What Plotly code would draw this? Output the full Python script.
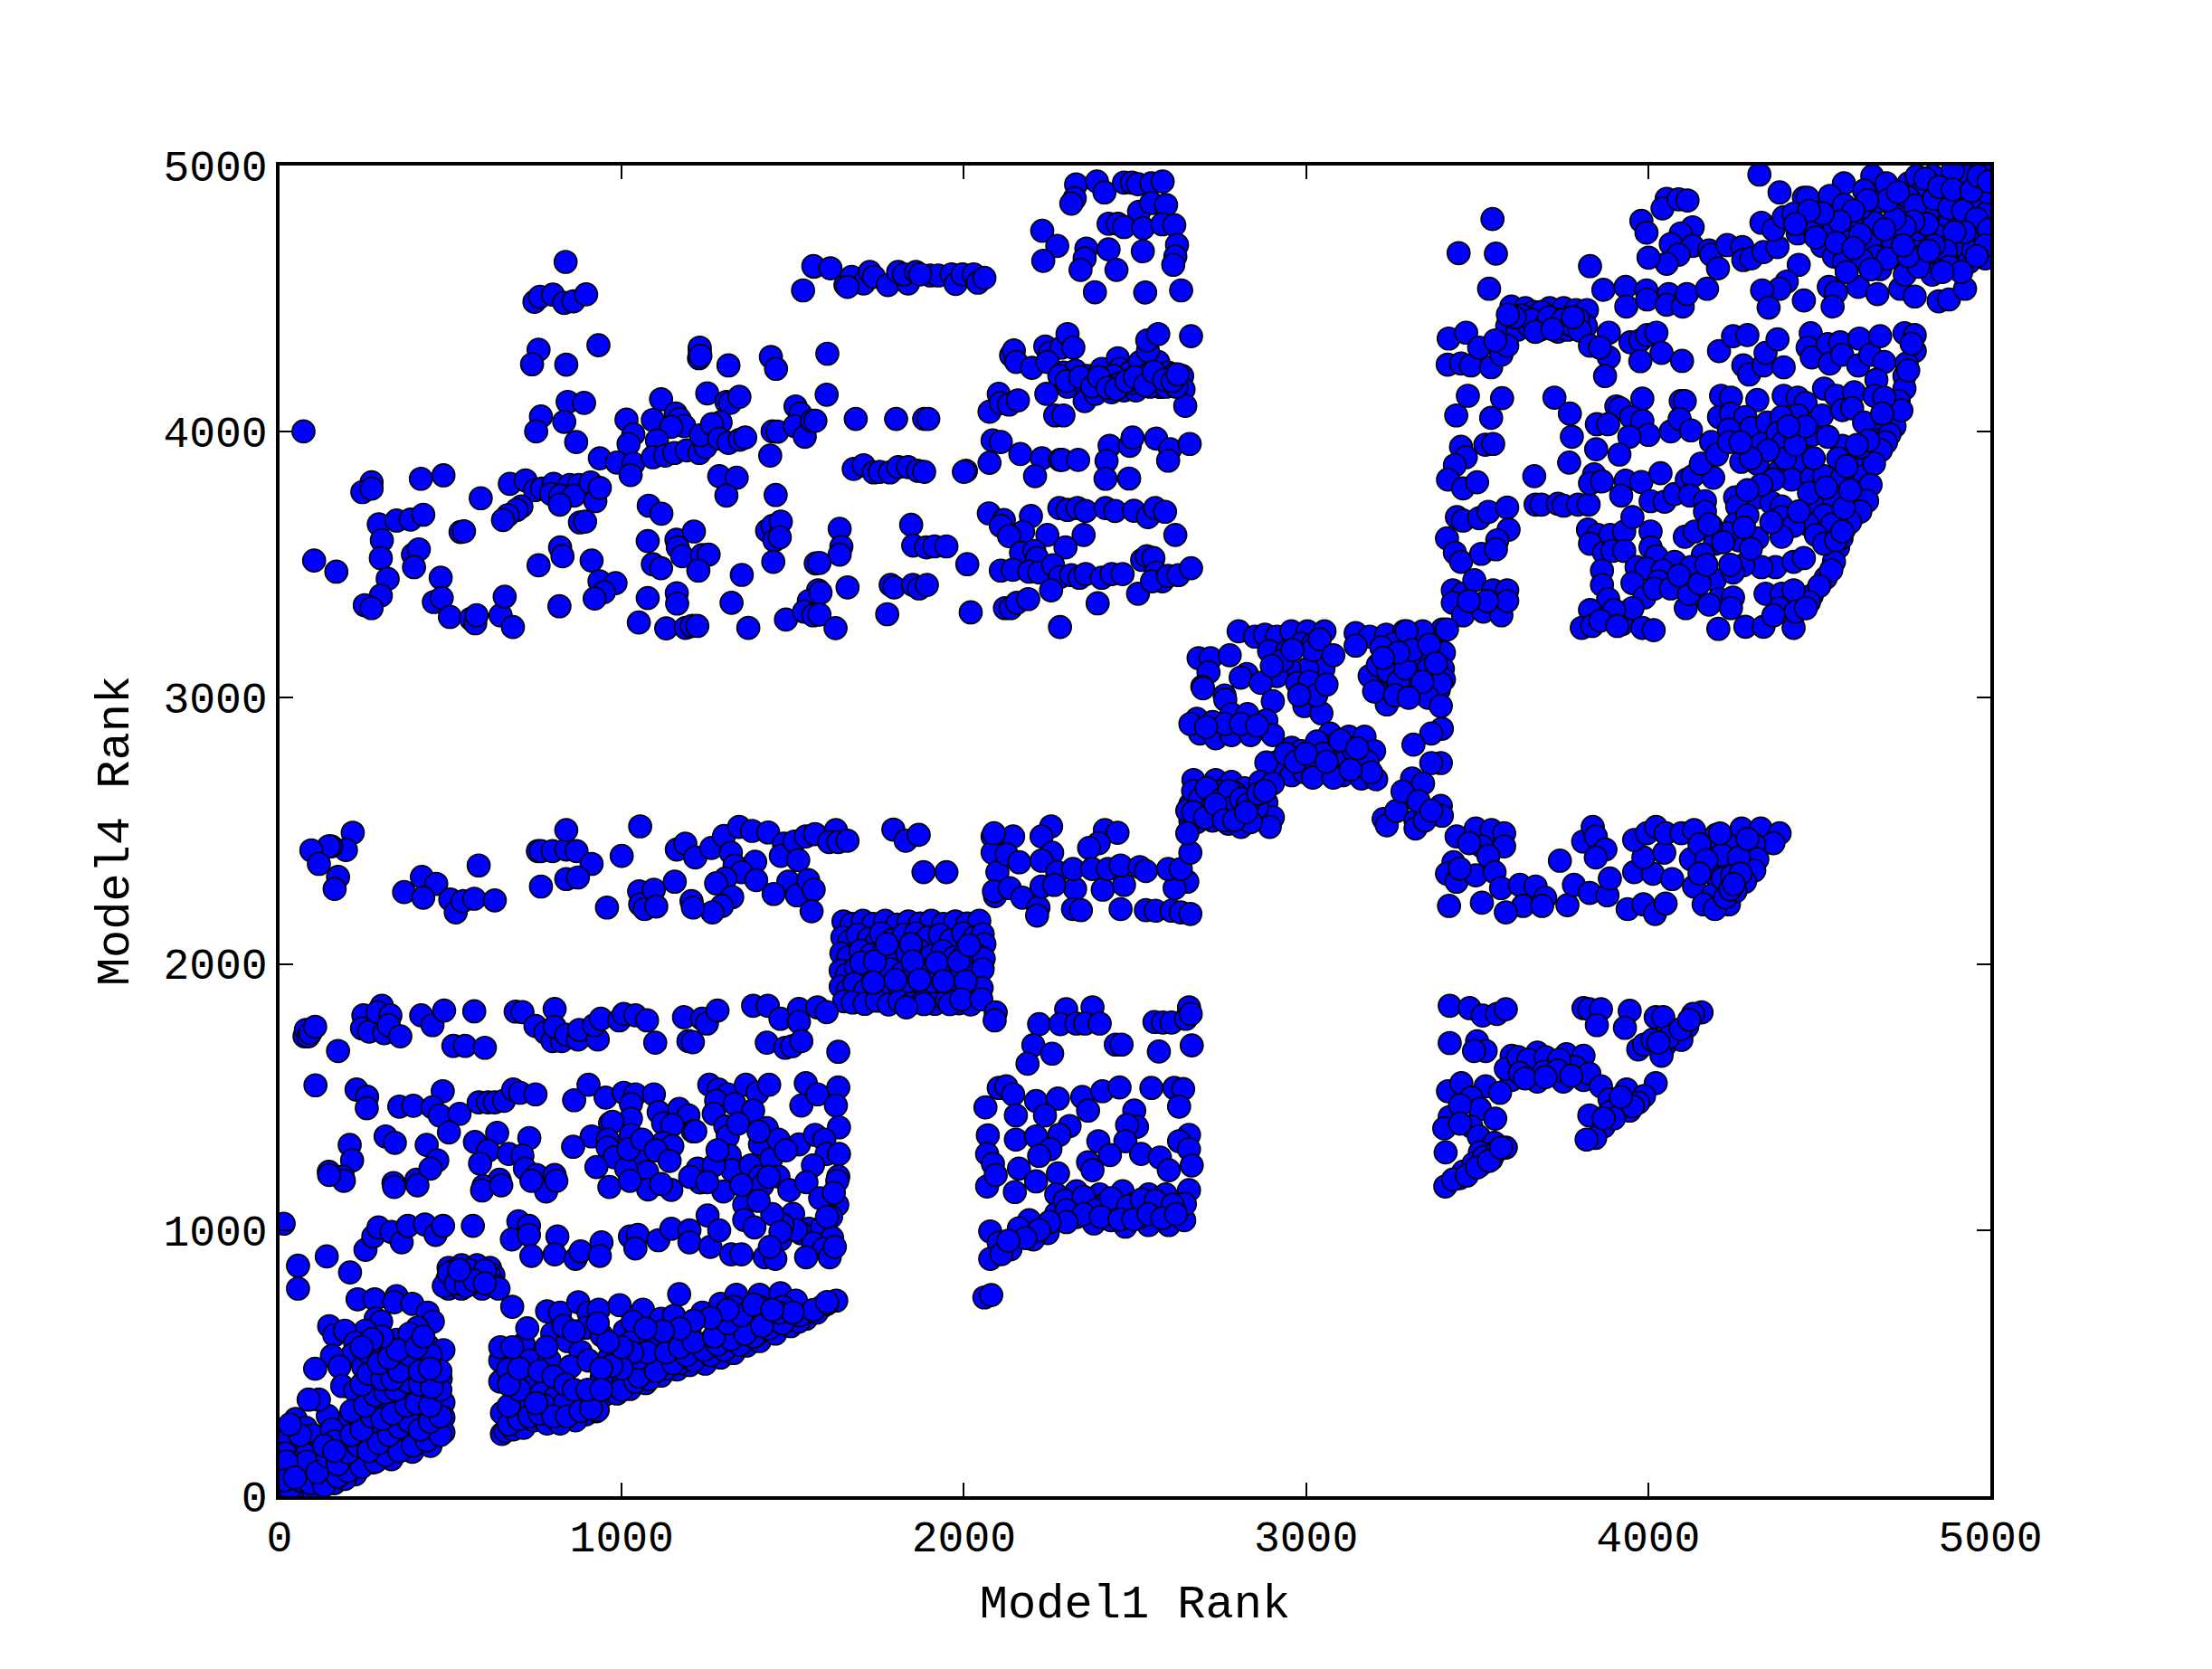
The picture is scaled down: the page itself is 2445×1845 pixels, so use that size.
import plotly.graph_objects as go

# (model1 rank, model4 rank), grouped by region of the plot

top_left = [(70,4001),(836,4638),(745,4488),(761,4507),(799,4515),(832,4484),(859,4490),(896,4516),(932,4325),(757,4308),(738,4253),(838,4252),
(1226,4276),(1228,4303),(1228,4316),(1230,4285),(1312,4249),(1436,4281),(1451,4236),(1562,4620),(1530,4531),(842,4112),(890,4108),(764,4057),(832,4037),(750,4001),(867,3961),
(1115,4122),(1250,4144),(1306,4112),(1317,4108),(1344,4131),(1014,4045),(1091,4044),(1034,3990),(1158,4068),(1169,4048),(1183,4021),(1145,4018),(1020,3954),(1103,3967),(936,3900),(986,3884),(1034,3880),(1026,3837),(1091,3904),(1127,3910),(1154,3920),(1190,3930),(1227,3920),(1245,3943),(1231,3987),(1289,4035),(1264,4028),(1285,3974),(1312,3958),(1345,3970),(1361,3978),(1434,3910),(1441,4001),(1455,4000),(1508,4095),(1522,4068),(1506,4021),(1535,3981),(1556,4041),
(1285,3833),(1336,3827),(1306,3760),(1450,3762),(269,3810),(242,3773),(269,3786),(413,3823),(479,3836),(588,3750),(673,3804),(719,3817),(747,3780),(767,3786),(801,3804),(794,3766),(848,3800),(821,3760),(875,3800),(861,3760),(909,3809),(923,3739),(936,3789),(819,3726),(707,3719),(693,3706),(667,3686),(653,3668),(878,3659),(893,3662),
(290,3652),(342,3666),(383,3670),(420,3688),(299,3592),(296,3525),(316,3447),(296,3384),(249,3348),(269,3337),(390,3538),(407,3558),(393,3491),(529,3623),(539,3626),(101,3516),(166,3474),
(471,3451),(451,3360),(474,3375),(498,3304),(559,3297),(572,3280),(576,3310),(646,3310),(658,3380),(682,3266),(820,3565),(827,3532),(757,3498),(818,3344),(912,3516),(935,3438),(982,3431),(948,3397),(921,3373),
(1079,3722),(1116,3692),(1076,3589),(1160,3594),(1164,3565),(1211,3625),(1177,3532),(1235,3536),(1254,3538),(1091,3502),(1115,3487),(1224,3478),(1076,3375),(1161,3393),(1162,3354),(1050,3283),(1130,3261),(1187,3263),(1205,3270),(1221,3270),(1321,3357),(1351,3462),(1370,3263),(1480,3294),
(1425,3628),(1441,3646),(1465,3662),(1446,3592),(1462,3603),(1443,3511),(1567,3505),(1574,3404),(1547,3364),(1533,3324),(1560,3310)]

top_middle = [(1560,4622),(1610,4614),(1654,4551),(1672,4582),(1707,4557),(1725,4600),(1737,4582),(1778,4551),(1808,4600),(1837,4557),(1825,4591),(1860,4600),(1902,4587),(1925,4587),(1964,4591),(1976,4555),(1996,4591),(2029,4591),(2041,4560),(2060,4578),(1660,4544),(1872,4591),
(2328,4929),(2389,4940),(2411,4899),(2468,4936),(2491,4936),(2509,4930),(2548,4933),(2581,4940),(2324,4877),(2314,4857),(2512,4826),(2548,4859),(2591,4852),(2423,4781),(2450,4781),(2468,4769),(2524,4765),(2580,4779),(2615,4776),
(2229,4755),(2273,4698),(2232,4642),(2358,4688),(2423,4685),(2353,4651),(2341,4608),(2446,4608),(2523,4678),(2623,4702),(2618,4658),(2612,4627),(2383,4524),(2530,4523),(2635,4531),
(1601,4293),(1599,4139),(1566,4041),(1684,4048),(1802,4048),(1884,4048),(1896,4048),
(2138,4287),(2146,4305),(2153,4262),(2199,4240),(2238,4320),(2252,4296),(2285,4316),(2303,4367),(2320,4316),(2244,4262),
(2291,4222),(2314,4182),(2326,4229),(2350,4182),(2361,4209),(2385,4168),(2403,4236),(2426,4182),(2450,4276),(2456,4236),(2468,4155),(2485,4222),(2503,4155),(2515,4262),(2538,4215),(2568,4262),(2574,4168),(2597,4222),(2615,4215),(2638,4209),(2642,4159),(2647,4097),(2353,4115),(2385,4142),(2432,4148),(2538,4303),(2536,4343),(2568,4367),(2664,4359),
(2279,4209),(2303,4169),(2332,4195),(2373,4195),(2409,4182),(2438,4209),(2456,4182),(2491,4182),(2515,4195),(2544,4169),(2562,4195),(2591,4169),(2621,4169),
(2102,4142),(2075,4075),(2108,4108),(2132,4102),(2158,4118),(2241,4142),(2267,4061),(2291,4061),
(2084,3967),(2108,3961),(2075,3883),(2165,3916),(2228,3900),(2208,3833),(2281,3894),(2287,3894),(2334,3894),(2426,3947),(2417,3890),(2414,3823),(2483,3824),(2485,3947),(2493,3978),(2562,3974),(2603,3934),(2597,3891),(2660,3954),
(1678,3860),(1707,3874),(1737,3847),(1754,3849),(1784,3847),(1808,3867),(1837,3867),(1866,3853),(1884,3849),(2006,3853),(2000,3849),
(1637,3635),(1642,3568),(1637,3538),(1578,3507),(1660,3415),(1581,3395),(1578,3313),(1625,3262),
(1846,3650),(1852,3572),(1890,3565),(1914,3569),(1949,3569),(2010,3502),(1786,3424),(1796,3415),(1851,3424),(1869,3411),(1892,3424),(1776,3314),(2020,3321),
(2073,3693),(2117,3668),(2108,3646),(2196,3683),(2173,3623),(2132,3608),(2244,3612),(2350,3612),(2297,3565),(2167,3545),(2206,3552),(2214,3525),
(2279,3713),(2303,3706),(2332,3713),(2356,3702),(2414,3713),(2442,3702),(2497,3703),(2538,3679),(2559,3713),(2588,3699),(2618,3612),
(2108,3478),(2143,3481),(2191,3474),(2220,3471),(2261,3498),(2281,3454),(2255,3404),(2314,3461),(2338,3451),(2356,3465),(2403,3451),(2432,3465),(2464,3465),(2521,3518),(2535,3532),(2554,3525),(2562,3471),(2509,3391),(2580,3438),(2550,3438),(2597,3458),(2627,3461),(2664,3487),
(2120,3337),(2137,3337),(2155,3357),(2188,3371),(2391,3355),(2281,3266),
(2300,4190),(2340,4205),(2375,4170),(2395,4205),(2420,4165),(2445,4160),(2475,4190),(2500,4205),(2530,4175),(2555,4225),(2585,4195),(2610,4190),(2625,4215)]

top_right = [(4325,4966),(3545,4799),(3446,4671),(3555,4669),(3535,4537),(3830,4622),(4054,4875),(4042,4839),(4089,4873),(4115,4869),
(3980,4792),(3995,4748),(4130,4768),(4095,4745),(4066,4705),(4130,4698),(4089,4665),(4054,4631),(4001,4654),(4178,4681),(4184,4665),(4204,4614),(4231,4701),(4275,4694),
(4278,4645),(4301,4651),(4337,4675),(4378,4694),(4440,4627),(4405,4564),(4384,4537),(4333,4531),(4352,4466),(4455,4493),(4528,4544),(4549,4524),(4539,4470),(4614,4544),(4670,4517),(4737,4537),(4779,4508),(4849,4490),(4879,4497),(4926,4537),
(4384,4899),(4455,4879),(4466,4879),(4572,4933),(4531,4886),(4331,4785),(4366,4759),(4396,4806),(4425,4819),(4478,4799),(4514,4772),(4437,4745),(4508,4698),(4543,4658),(4572,4638),(4584,4739),(4608,4785),(4661,4785),(4649,4705),(4667,4658),(4625,4645),(4620,4839),(4678,4866),(4655,4960),(4720,4839),(4732,4752),(4779,4732),(4726,4658),(4779,4625),(4832,4645),(4897,4705),(4902,4645),(4808,4866),(4761,4933),(4844,4812),(4867,4946),(4867,4732),(4926,4893),(4938,4799),(4973,4933),(4979,4785),(4973,4705),(4926,4692),(4743,4812),(4785,4960),(4832,4960),(4914,4966),(4950,4852),(4855,4866),(4696,4933),(4631,4906),(4572,4852),(4985,4973),(4973,4866),(4902,4799),(4808,4785),(4714,4718),(4678,4611),(4785,4705),(4855,4705),(4985,4651),(4938,4638),(4478,4772),
(4800,4900),(4820,4830),(4870,4900),(4880,4780),(4910,4850),(4960,4740),(4990,4820),(4760,4880),(4790,4760),(4840,4740),(4950,4680),(4990,4900),(4930,4960),(4890,4980),(4860,4670),(4800,4660),(4830,4590),(4750,4590),(4700,4650),
(4780,4850),(4810,4950),(4835,4875),(4850,4920),(4880,4840),(4890,4910),(4920,4830),(4945,4905),(4960,4800),(4965,4960),(4995,4940),(4995,4760),(4985,4700),(4925,4750),(4895,4750),(4870,4680),(4835,4700),(4815,4780),(4775,4790),(4750,4770),(4720,4800),(4700,4870),(4730,4900),(4790,4620),(4760,4660),(4745,4700),(4820,4680),(4880,4620),(4960,4660),(4915,4600),(4860,4600),(4640,4870),(4600,4830),(4560,4790),(4510,4820),(4470,4830),(4430,4780),(4490,4730),(4550,4710),(4620,4740),(4690,4760),(4650,4610),(4600,4690),(4580,4600),
(3600,4470),(3641,4464),(3588,4397),(3618,4383),(3665,4450),(3683,4383),(3712,4464),(3736,4376),(3753,4464),(3765,4383),(3789,4457),(3821,4457),(3818,4397),(3688,4450),(3630,4437),(3730,4423),(3795,4423),
(3650,4400),(3660,4420),(3700,4400),(3710,4430),(3750,4420),(3775,4400),(3800,4380),(3610,4430),(3590,4440),(3670,4375),(3720,4385),(3780,4430),
(3869,4533),(3934,4544),(3995,4531),(3936,4470),(3997,4497),(4060,4517),(4054,4477),(4101,4470),(4113,4517),(4172,4537),
(3417,4350),(3468,4372),(3414,4252),(3453,4256),(3482,4249),(3506,4316),(3541,4242),(3571,4289),(3588,4323),(3553,4343),
(3830,4323),(3885,4372),(3885,4279),(3874,4209),(3948,4336),(3977,4343),(3997,4363),(4024,4372),(3977,4265),(4039,4296),(4099,4266),(3859,4316),
(4207,4303),(4248,4359),(4290,4363),(4278,4249),(4295,4215),(4337,4249),(4343,4296),(4378,4347),(4396,4242),(4475,4370),(4466,4316),(4478,4279),(4525,4329),(4561,4336),(4531,4256),(4567,4289),(4617,4350),(4614,4249),(4649,4289),(4678,4359),(4690,4262),(4667,4195),(4749,4370),(4779,4363),(4779,4303),(4755,4256),(4749,4209),(4749,4162),(4732,4115),(4726,4068),(4684,4021),(4667,3967),(4637,3900),(4631,3833),(4625,3773),(4602,3686),(4572,3632),(4555,3565),(4543,3511),(4519,3451),(4478,3384),(4455,3337),
(4720,4020),(4705,3990),(4695,3960),(4680,3930),(4660,3880),(4650,3800),(4640,3740),(4620,3700),(4590,3660),(4565,3600),(4535,3480),(4500,3420),(4470,3360),(4740,4080),(4760,4230),(4770,4330),
(3473,4135),(3573,4126),(3439,4061),(3541,4052),(3453,3943),(3467,3904),(3524,3951),(3547,3954),(3435,3874),(3415,3820),(3459,3787),(3500,3810),(3726,4128),(3771,4068),(3777,3981),(3769,3884),(3667,3833),(3671,3726),(3688,3726),(3736,3729),(3753,3722),(3795,3726),(3826,3726),
(3441,3679),(3459,3666),(3506,3675),(3533,3699),(3588,3715),(3592,3632),(3559,3592),(3412,3599),(3435,3545),(3453,3511),(3512,3541),(3555,3558),(3429,3404),(3459,3391),(3492,3442),(3429,3357),(3459,3310),(3518,3324),(3547,3404),(3571,3310),(3588,3404),(3588,3364),(3529,3364),(3476,3364)]

right_block = [(3907,4095),(3918,4088),(3983,4124),(3950,4055),(3983,4041),(4001,3988),(3945,3981),(3850,4028),(3883,4028),(3848,3934),(3916,3914),(4066,4001),(4095,4115),(4107,4115),(4092,4048),(4125,4005),
(3842,3840),(3830,3806),(3865,3813),(3934,3816),(3980,3811),(4036,3844),(3921,3760),(4007,3739),(4048,3737),(4077,3766),(4113,3820),(4130,3833),(4122,3760),(4190,3827),(4166,3739),(4154,3880),
(4213,4135),(4242,4128),(4319,4119),(4207,4055),(4242,4068),(4284,4055),(4236,4008),(4184,3961),(4201,3914),(4236,3961),(4272,3887),(4319,3880),(4301,4014),(4348,4034),(4331,3954),(4396,4135),(4437,4128),(4460,4108),(4437,4061),(4390,4055),(4378,3994),(4396,3961),(4455,3914),(4431,3887),(4384,3853),(4419,3820),(4366,3820),(4478,3988),(4508,4061),(4514,4162),(4549,4135),(4567,4081),(4602,4148),(4596,4088),(4631,4034),(4661,4135),(4690,4128),(4684,4068),(4567,3947),(4555,3900),(4525,3981),(4478,3827),(4514,3833),(4567,3827),(4484,3900),(4620,3941),(4643,3967),
(4490,3733),(4543,3739),(4514,3686),(4537,3652),(4572,3713),(4466,3652),(4490,3612),(4514,3579),(4549,3592),(4567,3625),(4254,3753),(4260,3719),(4319,3753),(4360,3733),(4390,3719),(4390,3679),(4425,3646),(4390,3605),(4319,3599),(4254,3652),(4290,3686),(4266,3592),(4231,3619),(4184,3646),(4195,3579),
(4107,3605),(4136,3625),(4166,3699),(4178,3652),(4160,3538),(4195,3444),(4207,3371),(4248,3377),(4242,3337),(4178,3350),(4110,3337),(4119,3398),(4205,3259),(4284,3267),(4337,3267),(4343,3391),(4390,3391),(4384,3337),(4425,3404),(4425,3263),(4431,3324),(4461,3337),(4366,3310),(4372,3491),(4331,3491),(4278,3498),(4248,3471),(4425,3511),(4455,3525),(4219,3585),
(3824,3632),(3853,3612),(3889,3612),(3930,3625),(3830,3579),(3871,3545),(3895,3552),(3930,3552),(3954,3679),(4007,3625),(4007,3565),(4024,3532),(3966,3491),(3995,3485),(4077,3511),(4042,3478),(4125,3491),(3865,3478),(3865,3424),(3954,3431),(4030,3438),(3989,3377),(4018,3411),(4066,3411),(3883,3371),(3830,3330),(3806,3263),(3836,3270),(3889,3297),(3924,3277),(3954,3337),(3983,3263),(4016,3254),(4119,3390),
(4400,3900),(4430,3950),(4460,4020),(4410,4020),(4350,3930),(4300,3900),(4270,3960),(4330,3800),(4290,3780),(4470,3770),(4520,3790),(4590,3780),(4580,3870),(4610,3950),(4440,3700),(4360,3660),(4280,3640),(4300,3560),(4240,3500),(4090,3460),(4150,3430),(4170,3500),(3900,3330),(3860,3290),(3910,3270)]

center_blocks = [(2803,3250),(2851,3230),(2880,3237),(2915,3230),(2957,3250),(3004,3250),(3054,3250),(3145,3243),(3186,3230),(3234,3237),(3287,3250),(3340,3243),(3399,3257),(2686,3149),(2721,3149),(2777,3160),(2715,3096),(2697,3042),(2827,3089),(2809,3076),(2892,3176),(2945,3176),(2986,3203),(3021,3203),(3057,3149),(3051,3109),(3004,3109),(2951,3109),(2915,3082),(2868,3056),(2974,3056),(2762,3009),
(3186,3082),(3210,3123),(3257,3203),(3257,3136),(3298,3163),(3340,3136),(3375,3163),(3363,3096),(3234,3042),(3293,3042),(3328,3056),(3210,3022),(3145,3196),
(3412,3257),(3341,3250),(3294,3250),(3403,3170),(3400,3109),(3403,3069),(3347,3163),(3323,3149),(3358,3109),(3382,3056),(3311,3069),(3388,3029),
(2699,3036),(2764,2993),(2903,2987),(2995,2969),(3045,2942),(3236,2975),(3199,3024),(3394,3054),(3273,3011),(3357,3000),(3394,2969),(3397,2884),(3366,2866),(3314,2824),(3394,2755),(3366,2755),
(2681,2921),(2727,2909),(2782,2939),(2829,2939),(2690,2866),(2736,2848),(2782,2860),(2838,2860),(2884,2915),(2903,2860),(2662,2902),(2764,2902),(2810,2902),(2857,2896),(2708,2890),
(2958,2812),(2986,2800),(2912,2757),(2958,2709),(3014,2769),(3070,2866),(3125,2854),(3171,2854),(3199,2800),(3051,2721),(3107,2709),(3162,2697),(3205,2694),(3097,2781),(3153,2757),(3070,2818),(2995,2721),(2884,2757),(3032,2836),
(2671,2691),(2736,2691),(2782,2684),(2662,2600),(2718,2612),(2764,2606),(2820,2660),(2681,2533),(2727,2539),(2773,2527),(2810,2515),(2866,2684),(2903,2678),(2884,2606),(2903,2551),(2894,2515),(2857,2588),(2662,2539),(2699,2648),(2745,2648),(2792,2642),(2690,2576),(2745,2569),(2801,2563),(2838,2533),(2653,2576),
(3310,2697),(3342,2678),(3292,2624),(3394,2594),(3397,2557),(3227,2545),(3236,2521),(3264,2575),(3320,2539),(3320,2509),(3347,2539),(3282,2648),(3329,2612),(3366,2576),
(2670,2650),(2690,2620),(2710,2660),(2725,2590),(2755,2620),(2775,2650),(2785,2590),(2810,2620),(2830,2600),(2670,2570),(2705,2550),(2735,2600),(2760,2540),(2790,2540),(2825,2570),(2860,2640),(2880,2650),
(3020,3180),(3040,3220),(3080,3160),(3010,3060),(3030,3010),(3060,3050),(2980,3010),(2930,3140),(2960,3180),(2900,3120),(3220,3190),(3240,3100),(3270,3060),(3290,3110),(3310,3180),(3340,3060),(3360,3200),(3380,3130),(3270,3170),(3260,3010),(3300,3000),(3225,3150),
(2940,2790),(2970,2760),(3030,2750),(3050,2790),(3085,2740),(3120,2770),(3140,2800),(3180,2760),(3190,2720),(3020,2700),(3080,2700),(3130,2730),(3000,2790),(3100,2840),(3150,2810),(3060,2760)]

row_2300_left = [(214,2493),(194,2428),(151,2442),(144,2442),(93,2427),(115,2376),(171,2327),(161,2282),(364,2270),(416,2327),(458,2301),(420,2249),(499,2242),(515,2194),(535,2236),(569,2245),(629,2239),(582,2370),
(764,2291),(755,2424),(764,2424),(798,2424),(838,2430),(838,2503),(868,2424),(912,2376),(838,2319),(872,2325),(1000,2406),(957,2212),(1054,2517),
(1051,2273),(1054,2224),(1067,2206),(1094,2279),(1101,2216),(1155,2309),(1161,2430),(1186,2452),(1215,2400),(1262,2436),(1299,2481),(1343,2515),(1319,2418),(1381,2500),(1428,2494),(1474,2452),(1465,2406),(1505,2460),(1538,2479),(1565,2488),(1516,2390),(1626,2503),(1606,2458),(1633,2458),(1660,2463),(1390,2384),(1330,2370),(1350,2345),(1303,2321),(1276,2303),(1393,2315),(1323,2251),(1293,2218),(1265,2194),(1204,2236),(1208,2212),(1487,2309),(1444,2263),(1512,2258),(1545,2315),(1561,2279),(1555,2198),
(1794,2505),(1830,2463),(1868,2485),(1882,2345),(1949,2345),(2084,2479),(2084,2418),(2098,2345),(2091,2255),
(2255,2517),(2227,2479),(2144,2479),(2088,2491),(2125,2412),(2162,2382),(2258,2418),(2227,2388),(2412,2503),(2449,2493),(2394,2454),(2366,2436),(2088,2273),(2134,2285),(2171,2249),(2218,2212),(2214,2182),(2325,2282),(2406,2279),(2468,2297),(2319,2206),(2342,2202),(2458,2206),(2532,2202),(2560,2200),(2607,2200),(2634,2194),(2662,2188),(2653,2309),(2616,2285),(2227,2291),(2273,2345),(2319,2357),(2375,2357),(2421,2357),(2458,2370),(2514,2364),(2532,2349),(2597,2357),(2634,2357),(2264,2297),(2662,2418),(2653,2491)]

row_2300_right = [(3440,2479),(3496,2509),(3542,2503),(3579,2491),(3579,2442),(3514,2442),(3477,2454),(3533,2406),(3431,2382),(3412,2339),(3440,2309),(3496,2333),(3551,2345),(3449,2358),
(3570,2285),(3625,2297),(3671,2291),(3699,2249),(3634,2218),(3584,2194),(3514,2230),(3418,2218),(3690,2218),(3764,2221),(3783,2297),(3829,2267),(3881,2258),(3888,2321),(3742,2388),(3810,2460),(3838,2515),(3847,2479),(3875,2430),(3847,2400),(3940,2206),(3986,2224),(4020,2188),(4051,2227),
(3959,2345),(4014,2339),(4070,2319),(3986,2400),(4047,2418),(3959,2466),(3996,2491),(4023,2515),(4051,2491),(4097,2491),(4134,2503),(4199,2485),(4273,2509),(4329,2509),(4384,2491),(4366,2454),(4310,2448),(4245,2442),(4181,2430),(4125,2394),(4181,2345),(4236,2370),(4319,2394),(4310,2351),(4283,2309),(4134,2291),(4190,2261),(4236,2224),(4162,2224),(4195,2206),(4255,2273),(4218,2321),
(4150,2450),(4215,2410),(4265,2400),(4245,2330),(4270,2340),(4225,2250),(4240,2280),(4250,2300),(4170,2390),(4150,2340),(4210,2490),(4290,2470)]

block_2000 = [(1648,2160),(1672,2150),(1705,2162),(1735,2150),(1770,2162),(1805,2148),(1838,2160),(1872,2152),(1905,2162),(1940,2150),(1975,2160),(2010,2152),(2045,2162),
(1645,2100),(1665,2085),(1690,2110),(1722,2095),(1745,2080),(1758,2115),(1790,2090),(1825,2110),(1860,2115),(1885,2085),(1895,2100),(1930,2110),(1962,2090),(1998,2115),(2030,2100),(2055,2112),(2060,2075),
(1642,2040),(1662,2025),(1698,2050),(1730,2035),(1765,2045),(1800,2020),(1835,2040),(1870,2050),(1905,2030),(1938,2048),(1972,2025),(2005,2045),(2040,2032),(2058,2020),
(1640,1975),(1658,1960),(1685,1985),(1718,1970),(1752,1955),(1785,1980),(1820,1965),(1855,1985),(1890,1960),(1925,1978),(1958,1955),(1992,1975),(2028,1962),(2055,1980),
(1640,1915),(1660,1900),(1680,1925),(1712,1900),(1748,1885),(1782,1910),(1815,1895),(1850,1915),(1885,1890),(1918,1905),(1952,1888),(1988,1908),(2022,1892),(2052,1910),
(1650,1860),(1675,1855),(1710,1850),(1745,1862),(1780,1848),(1812,1860),(1848,1852),(1880,1858),(1915,1850),(1950,1862),(1985,1852),(2020,1848),
(1700,2005),(1740,2010),(1775,2075),(1845,2075),(1850,2010),(1920,2005),(1985,2010),(2015,2070),(1735,1930),(1800,1940),(1870,1940),(1940,1935),(2005,1935)]

row_1800 = [(1384,1843),(1427,1843),(1464,1794),(1518,1831),(1518,1782),(1572,1837),(1599,1819),(73,1728),(77,1752),(84,1728),(90,1740),(104,1764),(171,1673),
(245,1807),(241,1758),(262,1746),(299,1843),(286,1819),(324,1807),(306,1740),(319,1770),(353,1728),(414,1807),(447,1770),(481,1825),(508,1692),(542,1692),(600,1685),(569,1822),(690,1821),(710,1819),(804,1831),(748,1767),(777,1742),(798,1710),(825,1710),(804,1764),(838,1734),(872,1716),(876,1752),(930,1716),(919,1770),(939,1794),(993,1788),(1006,1812),(1040,1807),(1074,1788),(1098,1704),(1182,1800),(1235,1794),(1249,1776),(1280,1825),(1195,1710),(1208,1706),(1424,1704),(1478,1685),(1498,1691),(1525,1710),(1633,1670),
(1883,1849),(1832,1837),(1959,1849),(1992,1867),(2051,1867),(2093,1818),(2090,1788),
(2299,1830),(2376,1837),(2220,1774),(2282,1774),(2329,1776),(2354,1776),(2397,1776),(2203,1695),(2258,1663),(2186,1625),(2444,1697),(2461,1697),(2570,1671),(2666,1694),(2557,1782),(2582,1780),(2607,1780),(2649,1794),(2658,1837),(2663,1812)]

mid_left = [(105,1544),(225,1528),(256,1501),(255,1458),(350,1464),(391,1467),(477,1522),(447,1461),(468,1431),(526,1437),(582,1480),(609,1480),(629,1480),(656,1486),(683,1528),(703,1516),(748,1510),(495,1367),(861,1488),(903,1546),(953,1498),(1006,1516),(1040,1510),(1094,1510),(1027,1474),(1108,1443),(1168,1455),(1195,1431),(1256,1546),(1283,1528),(1310,1510),(1276,1486),(1269,1437),(1363,1546),(1397,1516),(1431,1546),(1330,1474),(1384,1449),(1538,1552),(1525,1468),(1572,1510),(1633,1536),(1626,1468),(1027,1419),(966,1401),(973,1407),(1208,1371),(1215,1371),(1303,1389),(1424,1383),(1635,1386),(1027,1358),(1121,1401),(1148,1395),(912,1352),(959,1340),
(310,1352),(337,1328),(205,1320),(430,1320),(571,1331),(636,1365),(609,1298),(670,1286),(730,1346),(858,1313),(212,1262),(144,1219),(185,1201),(333,1177),(400,1189),(461,1262),(441,1231),(586,1250),(710,1280),(717,1231),(751,1207),(804,1207),(643,1189),(596,1165),(959,1310),(979,1274),(1060,1262),(1074,1219),(926,1237),(1013,1231),(1020,1304),(1121,1328),(1148,1316),(1310,1352),(1316,1280),(1222,1231),(1323,1225),(1269,1243),(1377,1243),(1404,1322),(1437,1268),(1458,1340),(1518,1322),(1565,1358),(1592,1340),(1599,1286),(1635,1286),(1559,1243),(1633,1201),(1458,1201),(1404,1201),
(964,1162),(1077,1153),(1145,1151),(1024,1185),(1115,1173),(1229,1179),(1297,1145),(1251,1055),(1358,1095),(1358,1038),(1411,1168),(1501,1061),(1630,1185),(1630,1095),(1612,1050),(1547,1005),(1388,1010),(1464,965),(1524,988),(1585,1010),(1615,971),
(335,1162),(403,1168),(592,1149),(648,1168),(779,1145),(809,1185),(736,1185),(188,1185),(145,1207),
(1060,1340),(1100,1300),(1140,1260),(1200,1200),(1250,1180),(1280,1300),(1340,1400),(1400,1370),(1430,1200),(1480,1300),(1490,1150),(1540,1180),(1580,1120),(1600,1050),(1620,1140),(1510,1000),(1560,950),(1590,930),(1470,1020),(1440,1060),(1400,1110),(1350,1170)]

row_1000_left = [(12,1024),(138,901),(54,866),(54,780),(206,841),(251,926),(274,976),(289,1010),(327,993),(357,954),(375,1016),(425,1021),(456,982),(478,1016),(565,1016),(698,1033),(729,1016),(679,965),(729,982),(736,903),(812,976),(804,909),(865,892),(880,920),(941,954),(936,903),(1024,976),(1047,982),(1040,931),(1107,962),(1145,1005),(1198,999),(1198,954),(1259,937),(1285,999),(1320,909),(1350,909),(1418,898),(1449,892),(1464,993),(1433,937),(1539,898),(1608,898),(1623,937),
(494,858),(532,868),(577,868),(615,858),(625,830),(490,813),(524,825),(577,819),(615,825),(494,780),(532,780),(592,780),(630,790),(640,780),(480,790),(554,850),(509,848),(600,848),(562,801),(495,838),(680,712),(1168,759),(515,800),(545,790),(570,810),(600,800),(525,850)]

bottom_left = [(228,740),(278,740),(342,752),(335,729),(388,723),(433,690),(448,656),(403,633),(281,667),(297,656),(251,622),(145,639),(160,605),(191,622),(221,577),(213,532),(153,527),(175,487),(104,479),(183,414),(221,397),(244,487),(281,453),(312,543),(342,588),(380,611),(433,566),(479,549),(441,532),(372,498),(403,453),(471,442),(319,470),(357,420),(395,397),(433,375),(479,352),(479,296),(479,240),(433,307),(448,251),(403,319),(357,341),(297,330),(327,273),(266,375),(372,240),(418,217),(312,217),(357,184),(297,161),(251,200),(228,273),(198,285),(141,302),(115,363),(85,363),(47,290),(77,257),(54,195),(24,229),(100,229),(153,251),(191,195),(236,150),(100,161),(175,139),(160,206),(77,155),(17,161),(24,99),(85,82),(115,49),(160,49),(221,82),(191,65),(130,105),(54,37),(8,15),(8,82),(69,26),(274,127),(327,139),(388,167),(441,189),(145,71),(115,127),(39,127),(100,15),(24,9),(206,127),(342,195),(418,262),(297,240),(357,498),
(30,30),(60,60),(90,50),(130,40),(170,75),(200,95),(240,110),(280,130),(310,155),(350,170),(390,190),(430,210),(470,230),(50,110),(80,130),(110,90),(140,150),(170,120),(200,165),(230,190),(260,170),(290,200),(320,230),(350,260),(380,280),(410,250),(440,280),(470,300),(130,190),(160,170),(210,230),(240,250),(270,300),(300,290),(330,310),(370,340),(400,350),(440,340),(470,400),(210,320),(250,340),(280,380),(310,390),(340,400),(375,430),(410,420),(445,410),(470,470),(240,420),(260,460),(300,440),(330,440),(350,470),(380,530),(410,470),(440,480),(260,540),(290,500),(320,520),(345,550),(400,560),(420,600),(300,600),(270,590),(240,560),(20,130),(15,60),(45,70),(60,230),(30,270)]

bottom_wedge = [(650,234),(660,245),(683,251),(713,257),(744,285),(782,307),(820,313),(857,319),(895,307),(926,319),(948,380),(986,386),(1024,403),(1070,425),(1115,453),(1161,476),(1198,493),(1244,498),(1289,521),(1327,538),(1365,566),(1403,583),(1449,611),(1494,639),(1539,667),(1585,712),(1627,735),(1570,690),(1517,656),(1600,723),
(650,313),(645,431),(645,510),(645,560),(668,476),(713,572),(724,631),(729,510),(789,510),(744,420),(766,386),(804,369),(774,341),(706,352),(691,296),(782,695),(820,690),(873,729),(903,690),(933,701),(994,718),(1062,701),(797,611),(842,583),(895,633),(941,605),(880,543),(850,487),(903,510),(964,521),(1009,622),(1032,656),(1024,577),(1085,577),(1115,667),(1153,678),(1153,577),(1198,617),(1229,543),(1236,690),(1289,723),(1335,757),(1403,757),(1464,763),(1509,735),(1365,656),(1418,678),(1289,617),(1342,577),(979,453),(1039,476),(1100,510),(1161,510),(1251,577),(994,521),(941,442),(873,363),(903,341),(835,352),(1403,712),(1327,712),(1471,712),(1388,600),(1449,656),(930,324),(782,273),(865,285),(820,273),(744,319),
(1000,400),(1040,430),(1080,440),(1130,480),(1170,500),(1210,510),(1260,530),(1300,550),(1345,570),(1385,600),(1430,630),(1470,650),(1520,680),(1560,700),(1600,730),(1050,450),(1100,470),(1150,500),(1190,530),(1240,550),(1280,570),(1320,590),(1360,610),(1410,640),(1460,690),(1500,690),(1050,520),(1075,540),(1130,540),(1170,560),(1210,580),(1270,600),(1310,650),(1350,680),(1385,720),(1440,700),(1310,700),(1260,670),(1210,660),(1170,630),(1120,620),(1070,630),(1030,540),(1000,480),(970,490),(1000,560),(940,480),(670,270),(700,290),(730,300),(760,310),(800,300),(840,300),(880,320),(910,330),(670,340),(700,400),(670,420),(700,480),(680,560),(750,350),(760,470),(800,450),(835,420),(860,400),(900,400),(940,400),(780,560),(830,640),(860,620),(960,580),(930,650)]

mid_center = [(2102,1534),(2124,1540),(2144,1510),(2063,1461),(2211,1485),(2275,1494),(2346,1500),(2405,1522),(2455,1536),(2548,1534),(2615,1534),(2641,1530),(2629,1464),(2498,1449),(2506,1388),(2477,1395),(2363,1449),(2237,1431),(2152,1431),(2309,1391),(2279,1358),(2070,1356),(2152,1340),(2211,1352),(2253,1304),(2220,1279),(2068,1286),(2085,1249),(2161,1231),(2393,1334),(2472,1334),(2518,1286),(2427,1282),(2573,1273),(2658,1358),(2629,1334),(2658,1304),(2666,1243),(2599,1225),(2363,1255),(2376,1225),(2275,1213),(2211,1183),(2149,1143),(2068,1164),(2093,1207),
(2270,1134),(2329,1146),(2397,1134),(2464,1146),(2540,1134),(2590,1134),(2658,1150),(2270,1062),(2329,1049),(2380,1025),(2447,1086),(2472,1013),(2540,1019),(2599,1019),(2644,1037),(2646,1098),(2363,1098),(2413,1098),(2498,1098),(2565,1074),(2430,1037),(2514,1049),
(2245,989),(2203,965),(2191,1037),(2161,1007),(2077,995),(2102,953),(2136,928),(2077,892),(2110,910),(2060,747),(2080,756),
(2295,1110),(2350,1125),(2385,1075),(2430,1120),(2480,1090),(2520,1115),(2560,1110),(2610,1095),(2300,1075),(2350,1060),(2400,1050),(2455,1040),(2495,1040),(2540,1060),(2580,1045),(2620,1060),(2300,1030),(2250,1030),(2220,1000),(2180,970),(2130,960)]

mid_right = [(3420,1843),(3478,1834),(3516,1806),(3558,1812),(3584,1830),(3811,1834),(3828,1830),(3862,1830),(3850,1770),(3946,1824),(3932,1760),(4022,1800),(4044,1800),(4156,1818),(4131,1812),(4114,1764),(4080,1740),(4047,1691),(3971,1679),(3988,1697),(4013,1715),(4039,1655),(4097,1715),(3420,1703),(3500,1709),(3525,1673),(3491,1673),
(3601,1655),(3676,1667),(3761,1661),(3811,1655),(3601,1564),(3676,1558),(3752,1558),(3811,1564),(3634,1619),(3718,1613),(3786,1613),(3584,1606),(3660,1594),(3828,1588),
(3620,1650),(3650,1640),(3700,1650),(3740,1640),(3625,1590),(3695,1595),(3735,1600),(3775,1580),(3640,1570),(3700,1575),
(3862,1540),(3887,1491),(3887,1443),(3828,1431),(3870,1389),(3845,1346),(3820,1340),(3937,1528),(4022,1552),(3988,1504),(3946,1449),(3971,1479),
(4060,1725),(4095,1755),(4120,1790),(4030,1705),(3955,1465),(3920,1500),(3900,1420),(3870,1420),
(3415,1522),(3454,1552),(3525,1540),(3567,1516),(3483,1498),(3420,1425),(3508,1455),(3553,1419),(3404,1382),(3483,1389),(3505,1352),(3550,1328),(3584,1310),(3408,1292),(3508,1292),(3542,1267),(3508,1243),(3474,1219),(3449,1195),(3407,1164),
(3460,1220),(3490,1250),(3520,1275),(3560,1300),(3430,1190),(3470,1205),(3500,1235),(3535,1260),(3570,1310),(3450,1470),(3450,1400)]

regions = [top_left, top_middle, top_right, right_block, center_blocks, row_2300_left, row_2300_right,
           block_2000, row_1800, mid_left, row_1000_left, bottom_left, bottom_wedge, mid_center, mid_right]

model1_rank = [p[0] for r in regions for p in r]
model4_rank = [p[1] for r in regions for p in r]

tick_vals = [0, 1000, 2000, 3000, 4000, 5000]
FONT = "Liberation Mono"

fig = go.Figure()

fig.add_trace(
    go.Scatter(
        x=model1_rank,
        y=model4_rank,
        mode="markers",
        marker=dict(size=25, color="#0000ff", line=dict(color="black", width=1.7)),
    )
)

axis = dict(
    range=[0, 5000],
    tickvals=tick_vals,
    ticks="inside",
    ticklen=15,
    tickwidth=1.5,
    tickcolor="black",
    showline=True,
    linewidth=3.5,
    linecolor="black",
    mirror="allticks",
    showgrid=False,
    zeroline=False,
    tickfont=dict(family=FONT, size=48, color="black"),
)

fig.update_layout(
    width=2429,
    height=1829,
    margin=dict(l=301, r=237, t=175, b=183),
    paper_bgcolor="white",
    plot_bgcolor="white",
    showlegend=False,
    xaxis=dict(axis, title=dict(text="Model1 Rank", font=dict(family=FONT, size=52, color="black"), standoff=24)),
    yaxis=dict(axis, title=dict(text="Model4 Rank", font=dict(family=FONT, size=52, color="black"), standoff=22)),
)

fig.write_html("out.html")
